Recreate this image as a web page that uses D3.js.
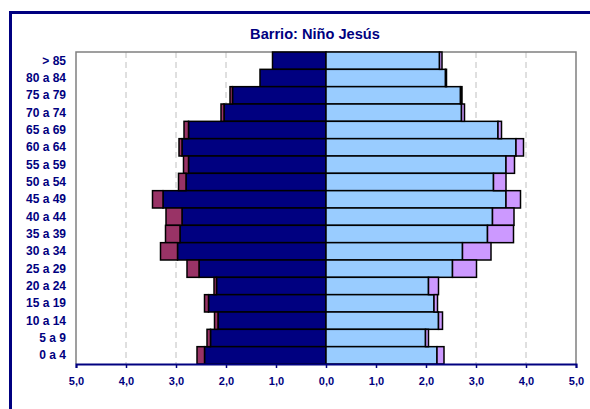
<!DOCTYPE html>
<html><head><meta charset="utf-8">
<script src="https://cdn.jsdelivr.net/npm/d3@7"></script>
<style>body{margin:0;background:#fff}svg{display:block;font-family:"Liberation Sans",Arial,sans-serif}</style>
</head><body>
<svg id="c" width="590" height="409"></svg>
<script>
const categories = ["> 85","80 a 84","75 a 79","70 a 74","65 a 69","60 a 64","55 a 59","50 a 54","45 a 49","40 a 44","35 a 39","30 a 34","25 a 29","20 a 24","15 a 19","10 a 14","5 a 9","0 a 4"];
const menNative   = [1.07,1.32,1.87,2.04,2.75,2.88,2.75,2.80,3.26,2.88,2.92,2.97,2.54,2.19,2.35,2.16,2.31,2.43];
const menForeign  = [0.00,0.00,0.05,0.06,0.09,0.06,0.10,0.15,0.21,0.32,0.29,0.34,0.24,0.05,0.08,0.07,0.07,0.15];
const womenNative = [2.27,2.39,2.69,2.71,3.44,3.80,3.60,3.35,3.60,3.33,3.23,2.73,2.53,2.05,2.16,2.25,1.99,2.22];
const womenForeign= [0.05,0.02,0.03,0.06,0.07,0.15,0.17,0.25,0.29,0.43,0.52,0.57,0.48,0.20,0.07,0.08,0.06,0.14];
const tickValues = [-5,-4,-3,-2,-1,0,1,2,3,4,5];
const title = "Barrio: Niño Jesús";

const svg = d3.select("#c");
const navy = "#000080";
const L = 76, R = 576, T = 52, B = 364;

svg.append("rect").attr("x",10.5).attr("y",12.5).attr("width",620).attr("height",420)
  .attr("fill","none").attr("stroke",navy).attr("stroke-width",3);

const x = d3.scaleLinear().domain([-5,5]).range([L,R]);
const y = d3.scaleBand().domain(categories).range([T,B]).padding(0);

// gridlines
svg.append("g").selectAll("line").data(tickValues.filter(v=>v!==0 && Math.abs(v)!==5)).join("line")
  .attr("x1",d=>x(d)).attr("x2",d=>x(d)).attr("y1",T).attr("y2",B)
  .attr("stroke","#c0c0c0").attr("stroke-width",1).attr("stroke-dasharray","6,4");

// frame
svg.append("path").attr("d",`M${L},${B}V${T}H${R}V${B}`).attr("fill","none")
  .attr("stroke","#808080").attr("stroke-width",1.5);

const g = svg.append("g").attr("stroke","#000").attr("stroke-width",1.5);
const idx = categories.map((c,i)=>i);
g.selectAll(".mn").data(idx).join("rect")
  .attr("x",i=>x(-menNative[i])).attr("width",i=>x(0)-x(-menNative[i]))
  .attr("y",i=>y(categories[i])).attr("height",y.bandwidth()).attr("fill",navy);
g.selectAll(".mf").data(idx.filter(i=>menForeign[i]>0)).join("rect")
  .attr("x",i=>x(-menNative[i]-menForeign[i])).attr("width",i=>x(-menNative[i])-x(-menNative[i]-menForeign[i]))
  .attr("y",i=>y(categories[i])).attr("height",y.bandwidth()).attr("fill","#993366");
g.selectAll(".wn").data(idx).join("rect")
  .attr("x",x(0)).attr("width",i=>x(womenNative[i])-x(0))
  .attr("y",i=>y(categories[i])).attr("height",y.bandwidth()).attr("fill","#99ccff");
g.selectAll(".wf").data(idx.filter(i=>womenForeign[i]>0)).join("rect")
  .attr("x",i=>x(womenNative[i])).attr("width",i=>x(womenNative[i]+womenForeign[i])-x(womenNative[i]))
  .attr("y",i=>y(categories[i])).attr("height",y.bandwidth()).attr("fill","#cc99ff");

// x axis
const fmt = d=>Math.abs(d).toFixed(1).replace(".",",");
const xa = svg.append("g").attr("transform",`translate(0,${B})`)
  .call(d3.axisBottom(x).tickValues(tickValues).tickFormat(fmt).tickSize(4).tickPadding(9));
xa.select(".domain").attr("stroke",navy).attr("stroke-width",2);
xa.selectAll(".tick line").attr("stroke",navy).attr("stroke-width",1.5);
xa.selectAll("text").attr("fill",navy).attr("font-size","11px").attr("font-weight","bold")
  .attr("font-family","Liberation Sans, Arial, sans-serif");

// y axis labels
const ya = svg.append("g").attr("transform",`translate(${L},0)`)
  .call(d3.axisLeft(y).tickSize(0).tickPadding(10));
ya.select(".domain").remove();
ya.selectAll("text").attr("fill",navy).attr("font-size","12px").attr("font-weight","bold")
  .attr("font-family","Liberation Sans, Arial, sans-serif");

svg.append("text").attr("x",315).attr("y",39).attr("text-anchor","middle")
  .attr("fill",navy).attr("font-size","14.6px").attr("font-weight","bold").text(title);
</script>
</body></html>
